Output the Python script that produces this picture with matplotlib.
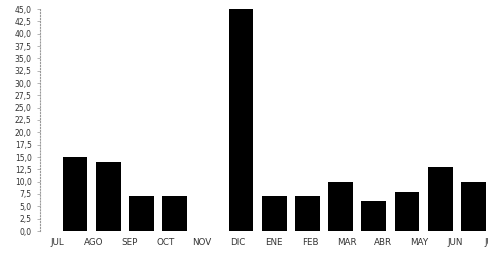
import numpy as np
import matplotlib.pyplot as plt

months = ['JUL', 'AGO', 'SEP', 'OCT', 'NOV', 'DIC', 'ENE', 'FEB', 'MAR', 'ABR', 'MAY', 'JUN', 'JUL']
values = [15, 14, 7, 7, 0, 45, 7, 7, 10, 6, 8, 13, 10]
yticks = np.arange(0, 45.1, 2.5)

fig = plt.figure(figsize=(4.88, 2.61), dpi=100)
ax = fig.add_axes([40/488, 30/261, 460/488, 222/261])

x = np.arange(len(months))
ax.bar(x, values, width=0.75, color='black')

ax.set_xlim(-1.054, 12.8)
ax.set_ylim(0, 45)

# month labels sit on a slightly wider pitch than the bars in the original
ax.set_xticks(x * 1.09 - 0.54)
ax.set_xticklabels(months, fontsize=6.3, color='#333333')
ax.tick_params(axis='x', length=0, pad=5)

ax.set_yticks(yticks)
ax.set_yticklabels([f'{v:.1f}'.replace('.', ',') for v in yticks], fontsize=5.5, color='#333333')
ax.tick_params(axis='y', length=2, width=0.5, color='#999999', pad=4)

for s in ['top', 'right', 'bottom']:
    ax.spines[s].set_visible(False)
ax.spines['left'].set_linestyle(':')
ax.spines['left'].set_color('#999999')
ax.spines['left'].set_linewidth(0.8)

plt.savefig('out.png', dpi=100)
